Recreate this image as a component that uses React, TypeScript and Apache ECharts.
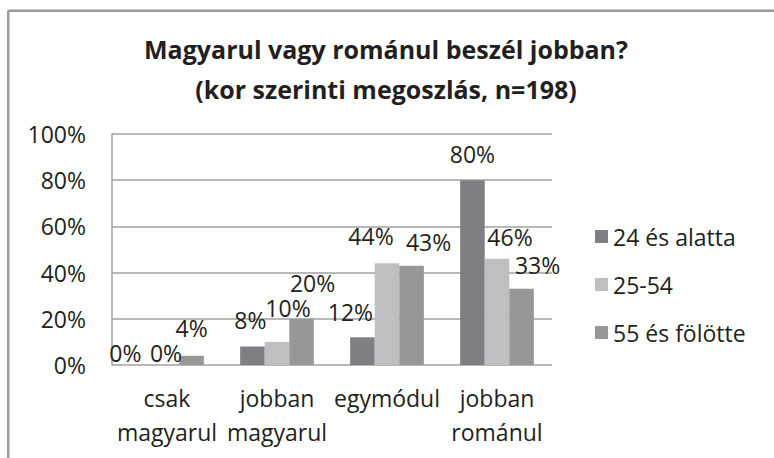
import React, { useEffect, useRef } from "react";
import * as echarts from "echarts";

const categories = ["csak\nmagyarul", "jobban\nmagyarul", "egymódul", "jobban\nrománul"];
const seriesNames = ["24 és alatta", "25-54", "55 és fölötte"];
const young = [0, 8, 12, 80];
const middle = [0, 10, 44, 46];
const old = [4, 20, 43, 33];
const yTicks = [0, 20, 40, 60, 80, 100];
const titleText = "Magyarul vagy románul beszél jobban?\n(kor szerinti megoszlás, n=198)";

// label nudges (style only): [dx, dy] per series per category, mimicking the hand-placed labels
const labelNudges: number[][][] = [
  [[-17, 14], [-2, 0], [-12, 1], [0, 0]],
  [[-1, 14], [11, -7], [-16, -1], [13, 5]],
  [[0, -1], [11, -9], [17, 3], [16, 3]],
];

const FONT = "'Open Sans', sans-serif";
const TEXT = "#231f20";
const colors = ["#7f7f83", "#bfbfc1", "#97979a"];

export default function App() {
  const ref = useRef<HTMLDivElement>(null);
  useEffect(() => {
    if (!ref.current) return;
    const chart = echarts.init(ref.current, null, { renderer: "svg" });
    const mk = (idx: number, vals: number[]) => ({
      name: seriesNames[idx],
      type: "bar",
      barGap: "0%",
      barCategoryGap: "33%",
      itemStyle: { color: colors[idx] },
      data: vals.map((v, i) => ({
        value: v,
        label: { offset: labelNudges[idx][i] },
      })),
      label: {
        show: true,
        position: "top",
        distance: 15,
        formatter: "{c}%",
        fontFamily: FONT,
        fontSize: 23,
        lineHeight: 23,
        color: TEXT,
      },
    });
    chart.setOption({
      animation: false,
      backgroundColor: "#ffffff",
      color: colors,
      title: {
        text: titleText,
        left: 381,
        top: 24,
        textAlign: "center",
        textStyle: {
          fontFamily: FONT,
          fontWeight: "bold",
          fontSize: 25,
          lineHeight: 40,
          color: TEXT,
        },
      },
      grid: { left: 112, right: 222, top: 134, bottom: 93 },
      legend: {
        orient: "vertical",
        left: 590,
        top: 220,
        itemWidth: 13,
        itemHeight: 13,
        itemGap: 25,
        icon: "rect",
        data: seriesNames,
        textStyle: { fontFamily: FONT, fontSize: 23, lineHeight: 23, color: TEXT },
      },
      xAxis: {
        type: "category",
        data: categories,
        axisLine: { show: false },
        axisTick: { show: false },
        axisLabel: {
          interval: 0,
          margin: 16,
          fontFamily: FONT,
          fontSize: 23,
          lineHeight: 34,
          color: TEXT,
        },
      },
      yAxis: {
        type: "value",
        min: yTicks[0],
        max: yTicks[yTicks.length - 1],
        interval: 20,
        axisLine: { show: true, lineStyle: { color: "#a0a0a0", width: 1.5 } },
        axisTick: { show: false },
        splitLine: { lineStyle: { color: "#a0a0a0", width: 1.5 } },
        axisLabel: {
          formatter: "{value}%",
          margin: 26,
          fontFamily: FONT,
          fontSize: 23,
          color: TEXT,
        },
      },
      graphic: [
        {
          type: "line",
          shape: { x1: 8.25, y1: 10.75, x2: 774, y2: 10.75 },
          style: { stroke: "#9a9a9a", lineWidth: 2.5 },
        },
        {
          type: "line",
          shape: { x1: 8.25, y1: 10.75, x2: 8.25, y2: 458 },
          style: { stroke: "#9a9a9a", lineWidth: 2.5 },
        },
      ],
      series: [mk(0, young), mk(1, middle), mk(2, old)],
    });
    return () => chart.dispose();
  }, []);
  return <div ref={ref} style={{ width: 774, height: 458, position: "absolute", left: 0, top: 0 }} />;
}
